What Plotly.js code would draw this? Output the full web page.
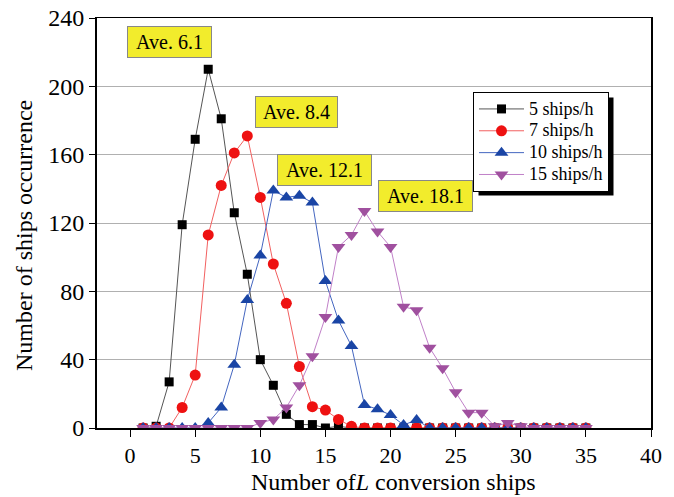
<!DOCTYPE html>
<html>
<head>
<meta charset="utf-8">
<script src="https://cdn.plot.ly/plotly-3.0.1.min.js"></script>
<style>html,body{margin:0;padding:0;background:#fff}#chart{width:674px;height:497px}</style>
</head>
<body>
<div id="chart"></div>
<script>
const xs = [1,2,3,4,5,6,7,8,9,10,11,12,13,14,15,16,17,18,19,20,21,22,23,24,25,26,27,28,29,30,31,32,33,34,35];
const s5  = [0,1,27,119,169,210,181,126,90,40,25,8,2,2,0,1,0,0,0,0,0,0,0,0,0,0,0,0,0,0,0,0,0,0,0];
const s7  = [0,0,0,12,31,113,142,161,171,135,96,73,36,12.5,10.5,5,1,0,0,0,0,0,0,0,0,0,0,0,0,0,0,0,0,0,0];
const s10 = [0,0,0,0,0,3,12,37,75,101,139,135,136,132,86,63,48,13.5,11,7.6,1.8,4.7,0,0,0,0,0,0,0,0,0,0,0,0,0];
const s15 = [0,0,0,0,0,0,0,0,0,3,5,12,25,42,65,106,113,127,115,106,71,69,47,35,21,9,9,1,3,1,0,0,0,0,0];
const seriesNames = ["5 ships/h","7 ships/h","10 ships/h","15 ships/h"];
const aveLabels = ["Ave. 6.1","Ave. 8.4","Ave. 12.1","Ave. 18.1"];
const xTicks = [0,5,10,15,20,25,30,35,40];
const yTicks = [0,40,80,120,160,200,240];
const xTitle = "Number of<i>L</i> conversion ships";
const yTitle = "Number of ships occurrence";

const F = "Liberation Serif, Times New Roman, serif";
const nm = (s) => '<span style="font-size:18px">' + s + '</span>';
const traces = [
  {x: xs, y: s5, name: nm(seriesNames[0]), mode: "lines+markers",
   line: {color: "#555555", width: 1}, marker: {symbol: "square", size: 9, color: "#000000"}},
  {x: xs, y: s7, name: nm(seriesNames[1]), mode: "lines+markers",
   line: {color: "#f26060", width: 1}, marker: {symbol: "circle", size: 11, color: "#ee1111"}},
  {x: xs, y: s10, name: nm(seriesNames[2]), mode: "lines+markers",
   line: {color: "#4466c0", width: 1}, marker: {symbol: "triangle-up", size: 12, color: "#1a45a5"}},
  {x: xs, y: s15, name: nm(seriesNames[3]), mode: "lines+markers",
   line: {color: "#c080c8", width: 1}, marker: {symbol: "triangle-down", size: 12, color: "#a0509f"}}
];

const L = 97, R = 651, T = 18, B = 428;
const W = R - L, H = B - T;
const annPos = [[3.05,226],[12.8,185],[14.9,151],[22.65,136]];
const annW = [81, 79, 91, 91];
const annotations = aveLabels.map((t,i)=>({
  x: annPos[i][0], y: annPos[i][1], xref: "x", yref: "y", text: t, showarrow: false,
  font: {family: F, size: 20, color: "#000"}, bgcolor: "#f2ec2c",
  bordercolor: "#888888", borderwidth: 1, borderpad: 1, width: annW[i], height: 28
}));
annotations.push({x: (393 - L) / W, y: (B - 482) / H, xref: "paper", yref: "paper",
  text: xTitle, showarrow: false, xanchor: "center", yanchor: "middle",
  font: {family: F, size: 24, color: "#000"}});
annotations.push({x: (24 - L) / W, y: (B - 235) / H, xref: "paper", yref: "paper",
  text: yTitle, showarrow: false, xanchor: "center", yanchor: "middle", textangle: -90,
  font: {family: F, size: 24, color: "#000"}});

const layout = {
  width: 674, height: 497,
  margin: {l: L, r: 674 - R, t: T, b: 497 - B},
  paper_bgcolor: "#fff", plot_bgcolor: "#fff",
  showlegend: true,
  legend: {x: (473 - L) / W, y: (B - 92) / H, xanchor: "left", yanchor: "top",
    bgcolor: "#fff", bordercolor: "#000", borderwidth: 1, itemwidth: 45,
    font: {family: F, size: 14.5, color: "#000"}, tracegroupgap: 0},
  xaxis: {range: [-2.54, 40], tickvals: xTicks, ticktext: xTicks.map(String),
    ticks: "outside", ticklen: 7, tickcolor: "#000", showgrid: false, zeroline: false,
    showline: true, linecolor: "#000", linewidth: 1.5, mirror: true,
    tickfont: {family: F, size: 22, color: "#000"}},
  yaxis: {range: [0, 240], tickvals: yTicks, ticktext: yTicks.map(String),
    ticks: "outside", ticklen: 6, tickcolor: "#000", showgrid: true, gridcolor: "#b0b0b0", gridwidth: 1,
    zeroline: false, showline: true, linecolor: "#000", linewidth: 2, mirror: true,
    tickfont: {family: F, size: 24, color: "#000"}},
  annotations: annotations,
  shapes: []
};
const gd = document.getElementById("chart");
Plotly.newPlot(gd, traces, layout, {staticPlot: true}).then(() => {
  const bg = gd.querySelector(".legend .bg");
  if (!bg) return;
  const r = bg.getBoundingClientRect();
  const c = gd.getBoundingClientRect();
  const sz = gd._fullLayout._size;
  const px = (v) => (v - c.left - sz.l) / sz.w;
  const py = (v) => 1 - (v - c.top - sz.t) / sz.h;
  return Plotly.relayout(gd, {shapes: [{type: "rect", xref: "paper", yref: "paper", layer: "above",
    x0: px(r.left + 5), x1: px(r.right + 5), y0: py(r.bottom + 4), y1: py(r.top + 5),
    fillcolor: "#000", line: {width: 0}}]});
});
</script>
</body>
</html>
